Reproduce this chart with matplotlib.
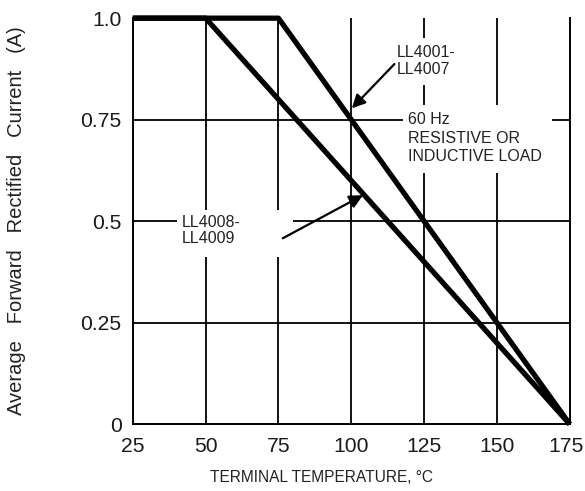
import matplotlib
matplotlib.use("Agg")
import matplotlib.pyplot as plt
from matplotlib.patches import Rectangle
from matplotlib.transforms import ScaledTranslation

plt.rcParams['font.family'] = ['Liberation Sans', 'DejaVu Sans']

# derating curves
tempA = [25, 75, 175]
currA = [1.0, 1.0, 0.0]      # LL4001-LL4007
tempB = [25, 50, 175]
currB = [1.0, 1.0, 0.0]      # LL4008-LL4009

xticks = [25, 50, 75, 100, 125, 150, 175]
yticks = [0, 0.25, 0.5, 0.75, 1.0]
ylabels = ['0', '0.25', '0.5', '0.75', '1.0']

fig = plt.figure(figsize=(5.85, 4.91), dpi=100)
ax = fig.add_axes([0.227, 0.136, 0.747, 0.827])

for x in xticks[1:-1]:
    ax.plot([x, x], [0, 1.0], color='black', lw=1.3, zorder=1)
for y in yticks[1:-1]:
    ax.plot([25, 175], [y, y], color='black', lw=1.3, zorder=1)

ax.plot(tempA, currA, color='black', lw=3.8, solid_capstyle='butt', zorder=3, clip_on=False)
ax.plot(tempB, currB, color='black', lw=3.8, solid_capstyle='butt', zorder=3, clip_on=False)

ax.set_xlim(25, 175)
ax.set_ylim(0, 1.0)
ax.set_xticks(xticks)
ax.set_yticks(yticks)
ax.set_yticklabels(ylabels)
ax.tick_params(length=0, labelsize=15.2, labelcolor='#1a1a1a')
ax.tick_params(axis='x', pad=9)
ax.tick_params(axis='y', pad=8)
ax.spines['top'].set_visible(False)
for s in ['left', 'bottom', 'right']:
    ax.spines[s].set_linewidth(1.4)
# the last x label sits a little left of its tick, as in the reference
last = ax.get_xticklabels()[-1]
last.set_transform(last.get_transform() + ScaledTranslation(-0.035, 0, fig.dpi_scale_trans))

fig.text(321 / 585, 1 - 477 / 491, 'TERMINAL TEMPERATURE, °C', fontsize=11.2, color='#222222',
         ha='center', va='center')
fig.text(17 / 585, 1 - 221 / 491, 'Average   Forward   Rectified   Current   (A)', fontsize=14.5,
         color='#222222', ha='center', va='center', rotation=90)

# white gaps in the grid behind the notes
ax.add_patch(Rectangle((113.6, 0.835), 23.4, 0.116, facecolor='white', edgecolor='none', zorder=2))
ax.add_patch(Rectangle((117.7, 0.618), 51.1, 0.168, facecolor='white', edgecolor='none', zorder=2))
ax.add_patch(Rectangle((40.1, 0.411), 39.8, 0.116, facecolor='white', edgecolor='none', zorder=2))

ax.text(115.6, 0.894, 'LL4001-\nLL4007', fontsize=11.5, color='#222222', va='center', ha='left',
        linespacing=1.2, zorder=4)
ax.text(119.4, 0.704, '60 Hz\nRESISTIVE OR\nINDUCTIVE LOAD', fontsize=11.5, color='#222222',
        va='center', ha='left', linespacing=1.3, zorder=4)
ax.text(41.8, 0.477, 'LL4008-\nLL4009', fontsize=11.5, color='#222222', va='center', ha='left',
        linespacing=1.15, zorder=4)

ax.annotate('', xy=(100.2, 0.778), xytext=(114.8, 0.887),
            arrowprops=dict(arrowstyle='-|>', color='black', lw=1.6, mutation_scale=20,
                            shrinkA=0, shrinkB=0), zorder=5)
ax.annotate('', xy=(104.0, 0.564), xytext=(76.5, 0.458),
            arrowprops=dict(arrowstyle='-|>', color='black', lw=1.6, mutation_scale=20,
                            shrinkA=0, shrinkB=0), zorder=5)

fig.savefig('out.png', dpi=100)
